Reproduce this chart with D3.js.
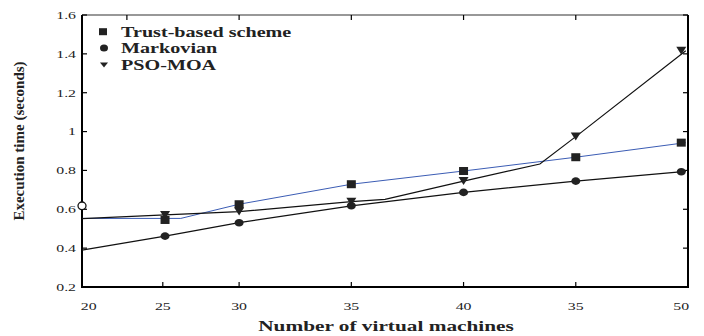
<!DOCTYPE html>
<html>
<head>
<meta charset="utf-8">
<script src="https://cdn.jsdelivr.net/npm/d3@7"></script>
<style>
  body { margin: 0; background: #fff; }
  text { font-family: "Liberation Serif", "Times New Roman", serif; fill: #222; }
</style>
</head>
<body>
<svg id="chart"></svg>
<script>
// x values are positions on the plotted axis (image axis runs ~23..50)
const seriesNames = ["Trust-based scheme", "Markovian", "PSO-MOA"];
const markerX = [26.7, 30, 35, 40, 45, 49.7];
const trustVals = [0.545, 0.626, 0.729, 0.797, 0.868, 0.943];
const markovVals = [0.462, 0.531, 0.618, 0.687, 0.745, 0.793];
const psoVals = [0.571, 0.588, 0.639, 0.745, 0.974, 1.416];

// line vertices (the drawn lines do not pass exactly through every marker)
const trustLine = [[23, 0.553], [27.4, 0.553], [30, 0.626], [35, 0.729], [40, 0.797], [45, 0.868], [49.9, 0.943]];
const markovLine = [[23, 0.39], [26.7, 0.462], [30, 0.531], [35, 0.618], [40, 0.687], [45, 0.745], [49.9, 0.795]];
const psoLine = [[23, 0.552], [26.7, 0.571], [30, 0.588], [35, 0.639], [36.5, 0.651], [40, 0.745], [43.4, 0.833], [45, 0.974], [49.9, 1.416]];

const xTickLabels = ["20", "25", "30", "35", "40", "35", "50"];
const xLabelPos = [23.3, 26.6, 30, 35, 40, 45, 49.7];
const xBottomTicks = [26.6, 30, 35, 40, 45];
const xTopTicks = [25, 30, 35, 40, 45];
const yTicks = [0.2, 0.4, 0.6, 0.8, 1, 1.2, 1.4, 1.6];
const strayPoint = [23, 0.618];

const W = 704, H = 336;
const plot = { left: 82, right: 688, top: 15, bottom: 287 };
const sx = 1.44; // the figure is stretched horizontally

const svg = d3.select("#chart").attr("width", W).attr("height", H);

const x = d3.scaleLinear().domain([23, 50]).range([plot.left, plot.right]);
const y = d3.scaleLinear().domain([0.2, 1.6]).range([plot.bottom, plot.top]);

// frame
svg.append("line").attr("x1", plot.left).attr("x2", plot.right).attr("y1", plot.top).attr("y2", plot.top)
  .attr("stroke", "#333").attr("stroke-width", 1.2);
svg.append("line").attr("x1", plot.left).attr("x2", plot.left).attr("y1", plot.top).attr("y2", plot.bottom)
  .attr("stroke", "#000").attr("stroke-width", 2);
svg.append("line").attr("x1", plot.right).attr("x2", plot.right).attr("y1", plot.top).attr("y2", plot.bottom)
  .attr("stroke", "#000").attr("stroke-width", 2);
svg.append("line").attr("x1", plot.left - 1).attr("x2", plot.right + 1).attr("y1", plot.bottom).attr("y2", plot.bottom)
  .attr("stroke", "#000").attr("stroke-width", 2);

// ticks (all inward)
svg.selectAll(".ytl").data(yTicks).join("line")
  .attr("x1", plot.left).attr("x2", plot.left + 5)
  .attr("y1", d => y(d)).attr("y2", d => y(d))
  .attr("stroke", "#000").attr("stroke-width", 1.2);
svg.selectAll(".ytr").data(yTicks).join("line")
  .attr("x1", plot.right).attr("x2", plot.right - 5)
  .attr("y1", d => y(d)).attr("y2", d => y(d))
  .attr("stroke", "#000").attr("stroke-width", 1.2);
svg.selectAll(".xtt").data(xTopTicks).join("line")
  .attr("x1", d => x(d)).attr("x2", d => x(d))
  .attr("y1", plot.top).attr("y2", plot.top + 5)
  .attr("stroke", "#000").attr("stroke-width", 1.2);
svg.selectAll(".xtb").data(xBottomTicks).join("line")
  .attr("x1", d => x(d)).attr("x2", d => x(d))
  .attr("y1", plot.bottom).attr("y2", plot.bottom - 5)
  .attr("stroke", "#000").attr("stroke-width", 1.2);

// tick labels
svg.selectAll(".ylab").data(yTicks).join("text")
  .attr("transform", d => `translate(76,${y(d)}) scale(${sx},1)`)
  .attr("text-anchor", "end")
  .attr("dy", "0.35em")
  .style("font-size", "11px")
  .text(d => d3.format("~g")(d));

svg.selectAll(".xlab").data(xTickLabels).join("text")
  .attr("transform", (d, i) => `translate(${x(xLabelPos[i])},306) scale(${sx},1)`)
  .attr("text-anchor", "middle")
  .attr("dy", "0.35em")
  .style("font-size", "11px")
  .text(d => d);

// axis titles
svg.append("text")
  .attr("transform", `translate(386,326) scale(1.42,1)`)
  .attr("text-anchor", "middle")
  .attr("dy", "0.35em")
  .style("font-size", "15px")
  .style("font-weight", "bold")
  .text("Number of virtual machines");

svg.append("text")
  .attr("transform", `translate(19,141) rotate(-90)`)
  .attr("text-anchor", "middle")
  .attr("dy", "0.35em")
  .style("font-size", "15px")
  .style("font-weight", "bold")
  .text("Execution time (seconds)");

// lines
const line = d3.line().x(d => x(d[0])).y(d => y(d[1]));
svg.append("path").datum(trustLine).attr("d", line)
  .attr("fill", "none").attr("stroke", "#3b5cb4").attr("stroke-width", 1);
svg.append("path").datum(markovLine).attr("d", line)
  .attr("fill", "none").attr("stroke", "#111").attr("stroke-width", 1.2);
svg.append("path").datum(psoLine).attr("d", line)
  .attr("fill", "none").attr("stroke", "#111").attr("stroke-width", 1.2);

// markers
const triPath = (w, h) => `M${-w / 2},${-h / 2}L${w / 2},${-h / 2}L0,${h / 2}Z`;

svg.selectAll(".sq").data(trustVals).join("rect")
  .attr("x", (d, i) => x(markerX[i]) - 4.5)
  .attr("y", d => y(d) - 4)
  .attr("width", 9).attr("height", 8)
  .attr("fill", "#222");

svg.selectAll(".ci").data(markovVals).join("ellipse")
  .attr("cx", (d, i) => x(markerX[i]))
  .attr("cy", d => y(d))
  .attr("rx", 4.5).attr("ry", 3.8)
  .attr("fill", "#222");

svg.selectAll(".tri").data(psoVals).join("path")
  .attr("transform", (d, i) => `translate(${x(markerX[i])},${y(d)})`)
  .attr("d", triPath(10, 8))
  .attr("fill", "#222");

// stray open circle on the left axis
svg.append("ellipse")
  .attr("cx", x(strayPoint[0])).attr("cy", y(strayPoint[1]))
  .attr("rx", 4).attr("ry", 3.8)
  .attr("fill", "#fff").attr("stroke", "#111").attr("stroke-width", 1.3);

// legend
const legendY = [31.7, 48, 65];
const lg = svg.append("g");
lg.append("rect").attr("x", 103 - 4).attr("y", legendY[0] - 3.5).attr("width", 8).attr("height", 7).attr("fill", "#222");
lg.append("ellipse").attr("cx", 104).attr("cy", legendY[1]).attr("rx", 4).attr("ry", 3.5).attr("fill", "#222");
lg.append("path").attr("transform", `translate(104,${legendY[2]})`).attr("d", triPath(8, 5)).attr("fill", "#222");
lg.selectAll("text").data(seriesNames).join("text")
  .attr("transform", (d, i) => `translate(121,${legendY[i]}) scale(${sx},1)`)
  .attr("dy", "0.35em")
  .style("font-size", "14px")
  .style("font-weight", "bold")
  .text(d => d);
</script>
</body>
</html>
